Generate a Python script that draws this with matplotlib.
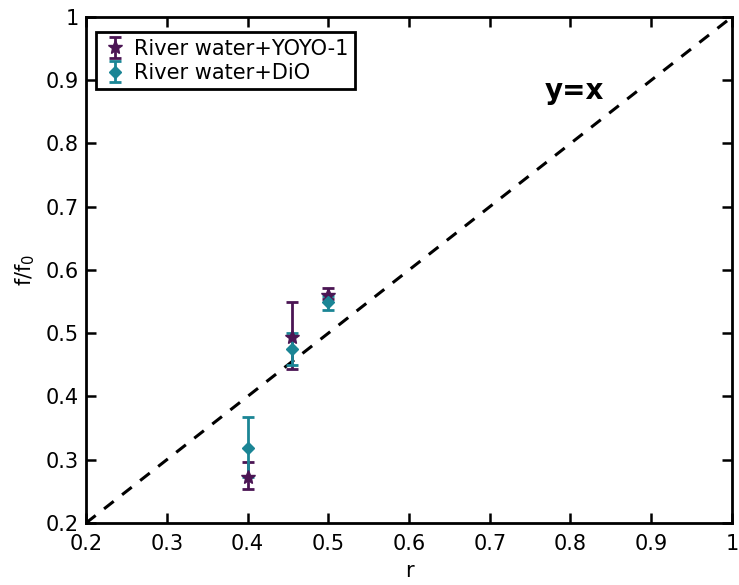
import matplotlib
matplotlib.use('Agg')
import matplotlib.pyplot as plt

# data
r_vals = [0.4, 0.455, 0.5]
yoyo_y = [0.272, 0.494, 0.560]
yoyo_lo = [0.019, 0.051, 0.006]
yoyo_hi = [0.024, 0.055, 0.011]
dio_y = [0.318, 0.475, 0.549]
dio_lo = [0.045, 0.025, 0.013]
dio_hi = [0.050, 0.025, 0.010]

purple = '#4b1554'
teal = '#1b8595'

fig = plt.figure(figsize=(7.39, 5.85), dpi=100)
ax = fig.add_axes([0.1164, 0.106, 0.8741, 0.865])

ax.plot([0.2, 1], [0.2, 1], 'k--', lw=2.2, dashes=(4, 3.5))
ax.errorbar(r_vals, yoyo_y, yerr=[yoyo_lo, yoyo_hi], fmt='*', color=purple,
            ms=10, elinewidth=2, capsize=4, capthick=2, label='River water+YOYO-1')
ax.errorbar(r_vals, dio_y, yerr=[dio_lo, dio_hi], fmt='D', color=teal,
            ms=6, elinewidth=2, capsize=4, capthick=2, label='River water+DiO')

ax.text(0.768, 0.871, 'y=x', fontsize=20, fontweight='bold', va='baseline')

ax.set_xlim(0.2, 1)
ax.set_ylim(0.2, 1)
ax.set_xticks([0.2, 0.3, 0.4, 0.5, 0.6, 0.7, 0.8, 0.9, 1])
ax.set_xticklabels(['0.2', '0.3', '0.4', '0.5', '0.6', '0.7', '0.8', '0.9', '1'])
ax.set_yticks([0.2, 0.3, 0.4, 0.5, 0.6, 0.7, 0.8, 0.9, 1])
ax.set_yticklabels(['0.2', '0.3', '0.4', '0.5', '0.6', '0.7', '0.8', '0.9', '1'])
ax.tick_params(direction='in', length=7, width=1.8, labelsize=15,
               top=True, right=True, pad=5)
ax.tick_params(axis='x', pad=8)
for s in ax.spines.values():
    s.set_linewidth(2)
ax.set_xlabel('r', fontsize=15, labelpad=5)
ax.set_ylabel('f/f$_0$', fontsize=15, labelpad=6)

leg = ax.legend(loc='upper left', fontsize=15, fancybox=False, framealpha=1,
                handletextpad=0.3, borderpad=0.3, labelspacing=0.2,
                handlelength=1.2, bbox_to_anchor=(0.0, 0.99))
leg.get_frame().set_edgecolor('black')
leg.get_frame().set_linewidth(2)

fig.savefig('out.png', dpi=100)
